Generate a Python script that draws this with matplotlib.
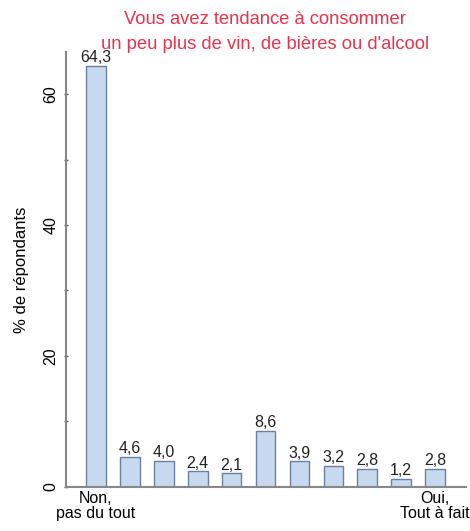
import matplotlib
matplotlib.use("Agg")
import matplotlib.pyplot as plt
import numpy as np

# Données
categories = ["Non,\npas du tout", "", "", "", "", "", "", "", "", "", "Oui,\nTout à fait"]
values = [64.3, 4.6, 4.0, 2.4, 2.1, 8.6, 3.9, 3.2, 2.8, 1.2, 2.8]
value_labels = ["64,3", "4,6", "4,0", "2,4", "2,1", "8,6", "3,9", "3,2", "2,8", "1,2", "2,8"]
title = "Vous avez tendance à consommer\nun peu plus de vin, de bières ou d'alcool"

plt.rcParams["font.family"] = ["Liberation Sans", "DejaVu Sans"]

fig = plt.figure(figsize=(4.7, 5.31), dpi=100)
ax = fig.add_axes([0.1404, 0.0829, 0.851, 0.819])

x = np.arange(len(values))
ax.bar(x, values, width=0.58, color="#c6d9ef", edgecolor="#6b7f9e", linewidth=1.0)

for xi, v, lab in zip(x, values, value_labels):
    ax.text(xi, v + 0.1, lab, ha="center", va="bottom", fontsize=11.5, color="#222222")

ax.set_xlim(-0.885, 10.91)
ax.set_ylim(0, 66.4)
ax.set_yticks([0, 20, 40, 60])
ax.set_yticks([10, 30, 50], minor=True)
ax.set_xticks(x)
ax.set_xticklabels(categories, fontsize=11.5, linespacing=1.0)
ax.tick_params(axis="x", length=0, pad=3)
ax.tick_params(axis="y", which="both", direction="inout", length=3, width=1,
               color="#555555", labelsize=11.5, pad=4)
for lbl in ax.get_yticklabels():
    lbl.set_rotation(90)
    lbl.set_va("center")

for side in ["top", "right"]:
    ax.spines[side].set_visible(False)
for side in ["left", "bottom"]:
    ax.spines[side].set_color("#888888")
    ax.spines[side].set_linewidth(1.5)

ax.set_ylabel("% de répondants", fontsize=12, labelpad=10)
fig.text(0.564, 0.98, title, ha="center", va="top", fontsize=13.2,
         color="#e8334a", linespacing=1.65)

fig.savefig("out.png", dpi=100)
